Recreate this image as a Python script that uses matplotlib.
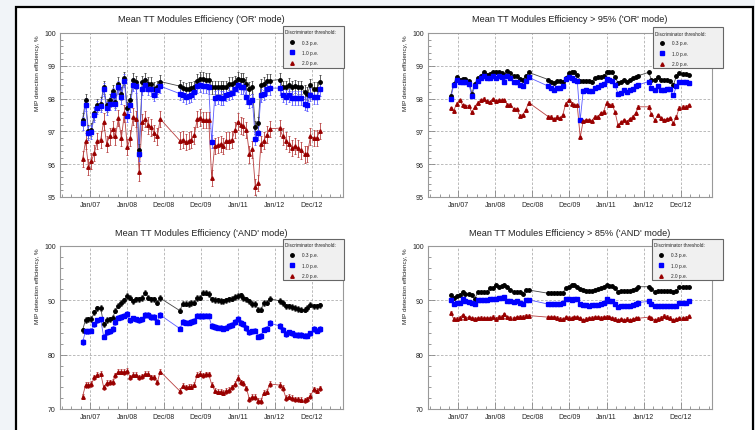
import matplotlib
matplotlib.use("Agg")
import matplotlib.pyplot as plt
from matplotlib.patches import Rectangle
from matplotlib.lines import Line2D
from matplotlib.ticker import MultipleLocator, FormatStrFormatter

plt.rcParams["font.family"] = ["Liberation Sans", "DejaVu Sans"]

W, H = 755, 431

# measurement dates, fractional years (gap over winter 2008/09 and around new year 2012)
dates = [2006.80, 2006.88, 2006.96, 2007.04, 2007.12, 2007.20, 2007.29, 2007.37, 2007.45,
         2007.53, 2007.61, 2007.69, 2007.77, 2007.85, 2007.93, 2008.01, 2008.09, 2008.17,
         2008.25, 2008.33, 2008.41, 2008.50, 2008.58, 2008.66, 2008.74, 2008.82, 2008.90,
         2009.43, 2009.51, 2009.59, 2009.67, 2009.74, 2009.82, 2009.90, 2009.98, 2010.06,
         2010.13, 2010.21, 2010.29, 2010.37, 2010.45, 2010.53, 2010.60, 2010.68, 2010.76,
         2010.84, 2010.92, 2011.00, 2011.07, 2011.15, 2011.23, 2011.31, 2011.39, 2011.47,
         2011.55, 2011.62, 2011.70, 2011.78, 2011.86,
         2012.13, 2012.21, 2012.30, 2012.38, 2012.46, 2012.55, 2012.63, 2012.71, 2012.80,
         2012.88, 2012.96, 2013.05, 2013.13, 2013.22]

tick_pos = [2007, 2008, 2009, 2010, 2011, 2012, 2013]
tick_lab = ["Jan/07", "Jan/08", "Dec/08", "Dec/09", "Jan/11", "Jan/12", "Dec/12"]

thresholds = ["0.3 p.e.", "1.0 p.e.", "2.0 p.e."]

# 'OR' mode, all modules
or_03 = [97.35, 97.95, 97.00, 97.05, 97.55, 97.80, 97.85, 98.35, 97.80, 97.95, 98.22, 97.90,
         98.45, 98.15, 98.62, 97.70, 97.95, 98.58, 98.50, 96.42, 98.50, 98.58, 98.45, 98.45,
         98.30, 98.35, 98.52,
         98.38, 98.32, 98.28, 98.30, 98.32, 98.35, 98.55, 98.60, 98.60, 98.58, 98.58, 98.35,
         98.35, 98.35, 98.35, 98.35, 98.35, 98.45, 98.45, 98.50, 98.60, 98.58, 98.58, 98.45,
         98.30, 98.35, 97.12, 97.25, 98.40, 98.45, 98.55, 98.55,
         98.58, 98.35, 98.35, 98.42, 98.35, 98.38, 98.35, 98.35, 98.20, 98.15, 98.40, 98.30,
         98.30, 98.52]
or_10 = [97.25, 97.82, 96.95, 96.98, 97.50, 97.72, 97.78, 98.28, 97.70, 97.85, 98.12, 97.85,
         98.35, 98.05, 98.55, 97.48, 97.80, 98.42, 98.38, 96.30, 98.30, 98.42, 98.30, 98.28,
         98.12, 98.25, 98.38,
         98.15, 98.10, 98.05, 98.08, 98.10, 98.20, 98.38, 98.40, 98.38, 98.38, 98.35, 96.68,
         98.02, 98.05, 98.02, 98.02, 98.12, 98.15, 98.18, 98.30, 98.40, 98.35, 98.35, 98.05,
         97.90, 97.95, 96.78, 96.95, 98.10, 98.15, 98.30, 98.32,
         98.32, 98.10, 98.05, 98.10, 98.02, 98.02, 98.02, 98.02, 97.85, 97.82, 98.12, 98.05,
         98.05, 98.28]
or_20 = [96.15, 96.70, 95.92, 96.10, 96.35, 96.70, 96.75, 97.30, 96.62, 96.85, 97.08, 96.85,
         97.40, 96.80, 97.55, 96.52, 96.80, 97.45, 97.38, 95.75, 97.28, 97.38, 97.18, 97.12,
         96.95, 96.85, 97.38,
         96.72, 96.75, 96.68, 96.72, 96.75, 96.88, 97.38, 97.42, 97.35, 97.35, 97.35, 95.58,
         96.55, 96.58, 96.62, 96.55, 96.72, 96.72, 96.75, 97.05, 97.30, 97.18, 97.15, 97.05,
         96.30, 96.45, 95.30, 95.42, 96.62, 96.72, 96.90, 97.08,
         97.10, 96.85, 96.72, 96.62, 96.50, 96.55, 96.48, 96.42, 96.30, 96.32, 96.85, 96.80,
         96.80, 97.02]

# 'OR' mode, modules above 95 %
or95_03 = [98.08, 98.45, 98.65, 98.58, 98.60, 98.60, 98.55, 98.15, 98.45, 98.62, 98.70, 98.80,
           98.72, 98.75, 98.82, 98.82, 98.80, 98.78, 98.72, 98.85, 98.78, 98.68, 98.68, 98.60,
           98.58, 98.68, 98.80,
           98.58, 98.52, 98.48, 98.55, 98.55, 98.52, 98.62, 98.78, 98.82, 98.80, 98.72, 98.55,
           98.55, 98.55, 98.55, 98.52, 98.62, 98.65, 98.65, 98.68, 98.80, 98.80, 98.80, 98.65,
           98.48, 98.52, 98.58, 98.52, 98.58, 98.62, 98.65, 98.70,
           98.80, 98.58, 98.58, 98.65, 98.58, 98.58, 98.58, 98.55, 98.42, 98.68, 98.78, 98.75,
           98.75, 98.72]
or95_10 = [98.00, 98.40, 98.58, 98.52, 98.50, 98.50, 98.45, 98.08, 98.38, 98.55, 98.62, 98.70,
           98.62, 98.62, 98.68, 98.62, 98.68, 98.65, 98.50, 98.68, 98.62, 98.50, 98.50, 98.40,
           98.38, 98.55, 98.65,
           98.38, 98.32, 98.25, 98.32, 98.32, 98.38, 98.60, 98.65, 98.62, 98.58, 98.55, 97.35,
           98.22, 98.25, 98.22, 98.22, 98.32, 98.35, 98.40, 98.45, 98.60, 98.58, 98.55, 98.40,
           98.15, 98.18, 98.25, 98.20, 98.25, 98.30, 98.38, 98.42,
           98.52, 98.32, 98.25, 98.38, 98.25, 98.25, 98.30, 98.28, 98.10, 98.38, 98.52, 98.50,
           98.50, 98.48]
or95_20 = [97.70, 97.62, 97.85, 97.95, 97.80, 97.78, 97.78, 97.58, 97.75, 97.88, 97.95, 98.00,
           97.92, 97.90, 97.98, 97.92, 97.95, 97.95, 97.95, 97.82, 97.82, 97.68, 97.68, 97.48,
           97.50, 97.65, 97.88,
           97.45, 97.45, 97.38, 97.45, 97.40, 97.50, 97.85, 97.95, 97.85, 97.80, 97.80, 96.82,
           97.32, 97.35, 97.35, 97.32, 97.45, 97.45, 97.55, 97.60, 97.88, 97.80, 97.82, 97.58,
           97.18, 97.28, 97.35, 97.30, 97.38, 97.45, 97.55, 97.75,
           97.75, 97.52, 97.35, 97.50, 97.40, 97.35, 97.38, 97.40, 97.25, 97.45, 97.72, 97.75,
           97.75, 97.80]

# 'AND' mode, all modules
and_03 = [84.5, 86.4, 86.5, 86.6, 87.8, 88.5, 88.6, 85.6, 86.4, 86.5, 86.8, 88.1, 89.0, 89.5,
          90.0, 90.8, 90.5, 89.8, 90.2, 90.2, 90.4, 91.4, 90.5, 90.2, 90.2, 89.6, 90.4,
          88.1, 89.4, 89.4, 89.3, 89.5, 89.6, 90.4, 90.5, 91.4, 91.4, 91.2, 90.2, 90.1, 90.0,
          89.9, 89.8, 90.0, 90.2, 90.3, 90.6, 90.8, 90.9, 90.4, 90.2, 89.8, 89.3, 89.3, 88.3,
          88.3, 89.5, 89.6, 90.3,
          89.9, 89.5, 88.9, 88.9, 88.8, 88.6, 88.4, 88.3, 88.3, 88.6, 89.2, 88.9, 88.9, 89.1]
and_10 = [82.3, 84.3, 84.3, 84.4, 85.6, 86.3, 86.5, 83.3, 84.2, 84.3, 84.7, 86.0, 86.8, 86.9,
          87.2, 87.5, 86.3, 86.7, 86.5, 86.3, 86.5, 87.3, 87.3, 86.9, 86.9, 86.1, 87.3,
          84.8, 86.0, 85.9, 85.9, 86.0, 86.2, 87.2, 87.1, 87.1, 87.2, 87.2, 85.3, 85.1, 85.0,
          85.0, 84.8, 85.0, 85.3, 85.5, 86.0, 86.6, 85.8, 85.6, 84.9, 84.1, 84.3, 84.4, 83.3,
          83.4, 84.6, 84.8, 85.8,
          85.3, 84.6, 83.8, 84.1, 83.9, 83.7, 83.6, 83.6, 83.5, 83.5, 83.9, 84.7, 84.4, 84.7]
and_20 = [72.3, 74.4, 74.4, 74.6, 75.8, 76.3, 76.5, 74.0, 74.8, 74.9, 75.0, 76.2, 76.9, 76.9,
          76.8, 77.0, 75.8, 76.3, 76.3, 75.8, 76.0, 76.5, 76.5, 75.8, 75.8, 74.9, 76.9,
          73.3, 74.3, 74.0, 74.1, 74.1, 74.5, 76.3, 76.5, 76.2, 76.4, 76.4, 74.5, 73.4, 73.2,
          73.2, 73.0, 73.3, 73.5, 74.0, 74.6, 75.7, 74.9, 74.7, 73.8, 71.8, 72.2, 72.2, 71.5,
          71.5, 73.0, 73.2, 74.6,
          74.4, 73.9, 72.0, 72.3, 72.0, 71.8, 71.8, 71.7, 71.6, 71.8, 72.4, 73.6, 73.4, 73.8]

# 'AND' mode, modules above 85 %
and85_03 = [91.0, 90.5, 90.8, 91.0, 91.5, 91.1, 91.1, 90.9, 90.3, 91.5, 91.5, 91.5, 91.5, 92.2,
            92.2, 92.8, 92.5, 92.6, 92.8, 92.5, 91.9, 91.6, 91.6, 91.6, 91.2, 91.9, 91.9,
            91.3, 91.3, 91.3, 91.3, 91.3, 91.4, 92.2, 92.4, 92.9, 92.8, 92.5, 92.0, 91.9, 91.8,
            91.8, 91.8, 91.9, 92.0, 92.3, 92.5, 92.8, 92.7, 92.7, 92.2, 91.6, 91.8, 91.8, 91.7,
            91.8, 91.9, 92.1, 92.5,
            92.5, 92.0, 91.6, 91.8, 91.8, 91.7, 91.7, 91.7, 91.5, 91.8, 92.4, 92.4, 92.4, 92.4]
and85_10 = [90.1, 89.3, 89.5, 89.6, 90.2, 89.8, 89.7, 89.6, 89.4, 90.1, 90.1, 90.0, 90.0, 90.2,
            90.2, 90.2, 90.5, 90.4, 90.6, 89.9, 89.9, 89.7, 89.8, 89.5, 89.4, 90.1, 90.1,
            89.3, 89.4, 89.3, 89.4, 89.4, 89.5, 90.2, 90.2, 90.1, 90.2, 90.2, 89.3, 89.1, 89.1,
            89.0, 89.1, 89.1, 89.1, 89.3, 89.6, 90.2, 89.8, 89.9, 89.4, 88.8, 88.9, 89.0, 88.9,
            89.0, 89.1, 89.3, 89.6,
            89.8, 89.3, 88.9, 89.0, 89.0, 88.9, 88.9, 88.9, 88.9, 89.0, 89.5, 89.5, 89.5, 89.8]
and85_20 = [87.7, 86.6, 86.6, 86.8, 87.3, 86.8, 86.9, 86.7, 86.6, 86.7, 86.8, 86.7, 86.7, 86.7,
            87.0, 86.6, 87.0, 87.0, 87.4, 86.9, 86.8, 86.7, 86.9, 87.0, 87.0, 87.2, 87.2,
            86.9, 86.9, 86.9, 86.8, 86.6, 86.5, 86.9, 86.8, 86.7, 86.9, 86.9, 86.7, 86.4, 86.6,
            86.7, 86.8, 86.9, 86.9, 86.8, 86.9, 87.0, 86.9, 86.7, 86.6, 86.4, 86.5, 86.3, 86.6,
            86.4, 86.5, 86.7, 86.7,
            86.9, 86.7, 86.4, 86.6, 86.8, 87.2, 87.0, 86.8, 86.3, 86.5, 86.7, 86.7, 86.8, 87.1]

# error bar half-widths per series
or_err = [0.20, 0.20, 0.25]
or95_err = [0.03, 0.03, 0.04]
and_err = [0.5, 0.5, 0.5]
and85_err = [0.15, 0.15, 0.25]

COLORS = ["#000000", "#0000ff", "#990000"]
LINE_COLORS = ["#444444", "#5a5aff", "#b84040"]
MARKERS = ["o", "s", "^"]

fig = plt.figure(figsize=(W / 100, H / 100), dpi=100)
fig.patch.set_facecolor("#f1f4f8")

# canvas frame
fig.add_artist(Rectangle((16 / W, -0.02), (753 - 16) / W, 1.02 - 7.5 / H,
                         transform=fig.transFigure, facecolor="white",
                         edgecolor="black", linewidth=1.6, zorder=0))


def px_box(x0, y0, x1, y1):
    return [x0 / W, 1 - y1 / H, (x1 - x0) / W, (y1 - y0) / H]


def panel(rect, title, series, errs, ylo, yhi, ymaj, ymin, legend_rect):
    ax = fig.add_axes(px_box(*rect))
    ax.set_facecolor("white")
    handles = []
    for vals, err, col, lcol, mk in zip(series, errs, COLORS, LINE_COLORS, MARKERS):
        ax.plot(dates, vals, color=lcol, lw=0.6, zorder=2)
        ax.errorbar(dates, vals, yerr=err, fmt="none", ecolor=lcol, elinewidth=0.6,
                    capsize=1.0, capthick=0.6, zorder=3)
        h, = ax.plot(dates, vals, ls="none", marker=mk, ms=2.5, mfc=col, mec=col, zorder=4)
        handles.append(h)

    ax.set_xlim(2006.19, 2013.84)
    ax.set_ylim(ylo, yhi)
    ax.set_xticks(tick_pos)
    ax.set_xticklabels(tick_lab)
    ax.xaxis.set_minor_locator(MultipleLocator(0.25))
    ax.yaxis.set_major_locator(MultipleLocator(ymaj))
    ax.yaxis.set_minor_locator(MultipleLocator(ymin))
    ax.yaxis.set_major_formatter(FormatStrFormatter("%g"))
    ax.tick_params(which="both", direction="in", colors="#888888", labelcolor="#222222",
                   labelsize=5, width=0.6, top=False, right=False)
    ax.tick_params(which="major", length=5, pad=3)
    ax.tick_params(which="minor", length=2.5)
    for s in ax.spines.values():
        s.set_color("#999999")
        s.set_linewidth(0.8)
    ax.grid(True, which="major", color="#b0b0b0", ls=(0, (3, 2)), lw=0.6)
    ax.set_axisbelow(True)
    ax.set_ylabel("MIP detection efficiency, %", fontsize=4.6, color="#222222")
    ax.yaxis.set_label_coords(-0.07, 0.76)
    cx = (rect[0] + rect[2]) / 2
    fig.text(cx / W, 1 - (rect[1] - 14) / H, title, ha="center", va="center",
             fontsize=6.6, color="#222222")

    # legend box
    lx0, ly0, lx1, ly1 = legend_rect
    fig.add_artist(Rectangle((lx0 / W, 1 - ly1 / H), (lx1 - lx0) / W, (ly1 - ly0) / H,
                             transform=fig.transFigure, facecolor="#f0f0f0",
                             edgecolor="#666666", linewidth=0.8, zorder=5))
    fig.text((lx0 + 2) / W, 1 - (ly0 + 6) / H, "Discriminator threshold:", ha="left",
             va="center", fontsize=3.4, color="#222222", zorder=6)
    for i, (lab, h) in enumerate(zip(thresholds, handles)):
        yy = 1 - (ly0 + 16 + i * 10.3) / H
        fig.add_artist(Line2D([(lx0 + 9) / W], [yy], transform=fig.transFigure, ls="none",
                              marker=h.get_marker(), ms=2.5, mfc=h.get_mfc(),
                              mec=h.get_mec(), zorder=6))
        fig.text((lx0 + 19) / W, yy, lab, ha="left", va="center", fontsize=3.4,
                 color="#222222", zorder=6)
    return ax


panel((60, 34, 343, 198), "Mean TT Modules Efficiency ('OR' mode)",
      [or_03, or_10, or_20], or_err, 95, 100, 1, 0.2, (283, 27, 344, 69))
panel((428, 34, 712, 198), "Mean TT Modules Efficiency > 95% ('OR' mode)",
      [or95_03, or95_10, or95_20], or95_err, 95, 100, 1, 0.2, (653, 28, 723, 69))
panel((60, 247, 343, 410), "Mean TT Modules Efficiency ('AND' mode)",
      [and_03, and_10, and_20], and_err, 70, 100, 10, 2, (283, 240, 344, 281))
panel((428, 247, 712, 410), "Mean TT Modules Efficiency > 85% ('AND' mode)",
      [and85_03, and85_10, and85_20], and85_err, 70, 100, 10, 2, (652, 240, 723, 281))

fig.savefig("out.png", dpi=100, facecolor=fig.get_facecolor())
